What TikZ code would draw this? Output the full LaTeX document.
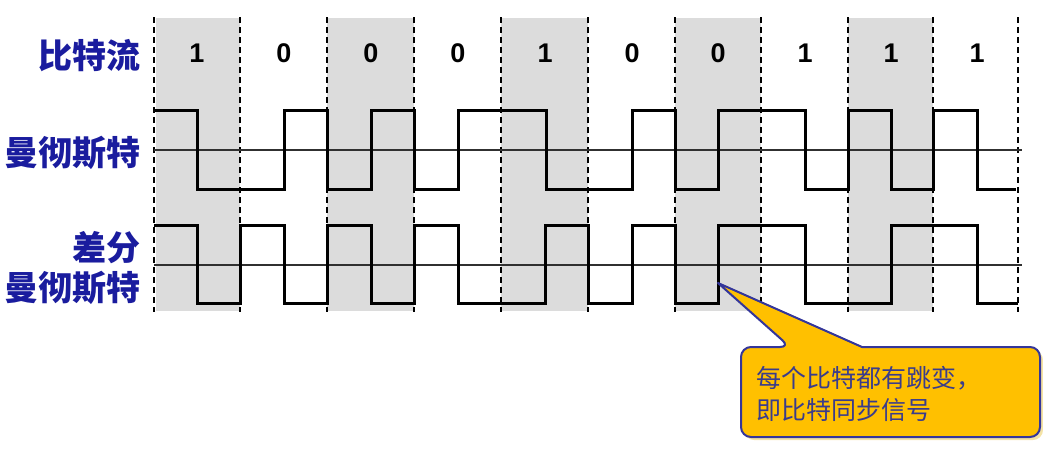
\documentclass[tikz,border=0pt]{standalone}
\usepackage{fontspec}
\setmainfont{Liberation Sans}
\newfontfamily\cjk{Noto Sans CJK SC}
\definecolor{bandgray}{HTML}{DCDCDC}
\definecolor{axisgray}{HTML}{303030}
\definecolor{labelblue}{HTML}{1A1C9E}
\definecolor{noteblue}{HTML}{3A3C8C}
\definecolor{calloutfill}{HTML}{FFC000}
\definecolor{calloutedge}{HTML}{34369A}
\definecolor{calloutshadow}{HTML}{F4E3A6}
\begin{document}
\begin{tikzpicture}[x=1pt,y=-1pt,
  band/.style={fill=bandgray,draw=none},
  divider/.style={line width=1.4pt,dash pattern=on 6pt off 4pt,black},
  axisline/.style={line width=1.2pt,draw=axisgray},
  wave/.style={line width=3pt,line join=miter,black},
  lbl/.style={font=\cjk\bfseries\fontsize{34}{40}\selectfont,text=labelblue,anchor=east,inner sep=0pt},
  bit/.style={font=\bfseries\fontsize{27}{30}\selectfont,inner sep=0pt},
  note/.style={font=\cjk\fontsize{25}{32}\selectfont,text=noteblue,align=left,anchor=west,inner sep=0pt}]
\useasboundingbox (0,0) rectangle (1043,448);

% grey bands
\foreach \a/\b in {156/240,327/414,501/588,675/761,848/933}
  \fill[band] (\a,18) rectangle (\b,311);

% dashed bit boundaries
\foreach \x in {154,240,327,414,501,588,675,761,848,933,1018}
  \draw[divider] (\x,17) -- (\x,312);

% labels
\node[lbl] (lstream) at (141,56) {比特流};
\node[lbl] (lman) at (141,153) {曼彻斯特};
\node[lbl] (ldiff1) at (141,248) {差分};
\node[lbl] (ldiff2) at (141,288) {曼彻斯特};

% bits
\foreach \x/\v [count=\i] in {197/1,284/0,371/0,458/0,545/1,632/0,718/0,805/1,891/1,977/1}
  \node[bit] (bit\i) at (\x,53) {\v};

% axis lines
\draw[axisline] (154,150) -- (1022,150);
\draw[axisline] (154,265) -- (1022,265);

% Manchester
\draw[wave] (154,110) -| (197,189) -| (284,110) -| (327,189) -| (371,110)
  -| (414,189) -| (458,110) -| (546,189) -| (632,110) -| (675,189)
  -| (718,110) -| (805,189) -| (848,110) -| (891,189) -| (933,110)
  -| (977,189) -- (1016,189);

% Differential Manchester
\draw[wave] (154,225) -| (197,303) -| (240,225) -| (284,303) -| (327,225)
  -| (371,303) -| (414,225) -| (458,303) -| (545,225) -| (588,303)
  -| (632,225) -| (675,303) -| (718,225) -| (805,303) -| (891,225)
  -| (977,303) -- (1018,303);

% callout
\fill[calloutshadow] (793,350) -- (721,286) -- (865,350)
  [rounded corners=10pt] -- (1043,350) -- (1043,440) -- (744,440) -- (744,350) -- cycle;
\draw[fill=calloutfill,draw=calloutedge,line width=2pt,line join=round]
  (790,347) -- (718,283) -- (862,347)
  [rounded corners=10pt] -- (1040,347) -- (1040,437) -- (741,437) -- (741,347) -- cycle;
\node[note] (note) at (756,394) {每个比特都有跳变，\\即比特同步信号};
\end{tikzpicture}
\end{document}
